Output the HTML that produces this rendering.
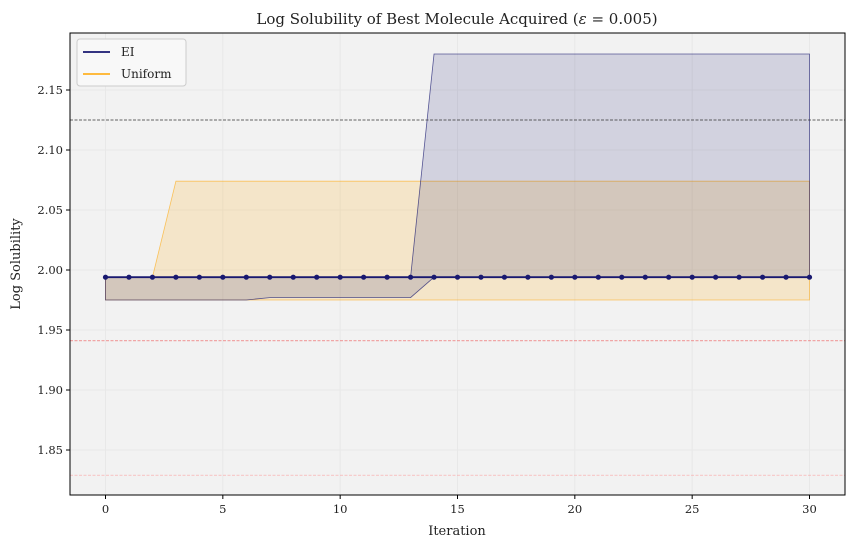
<!DOCTYPE html>
<html><head><meta charset="utf-8"><style>
body{margin:0;background:#fff;font-family:"DejaVu Serif","Liberation Serif",serif;}
svg text{font-family:"DejaVu Serif","Liberation Serif",serif;fill:#222;}
</style></head><body>
<svg id="chart" width="854" height="548"></svg>
<script>
const iterations=[...Array(31).keys()];
const eiMean=iterations.map(()=>1.994);
const eiLower=[1.975,1.975,1.975,1.975,1.975,1.975,1.975,1.977,1.977,1.977,1.977,1.977,1.977,1.977,1.994,1.994,1.994,1.994,1.994,1.994,1.994,1.994,1.994,1.994,1.994,1.994,1.994,1.994,1.994,1.994,1.994];
const eiUpper=[1.994,1.994,1.994,1.994,1.994,1.994,1.994,1.994,1.994,1.994,1.994,1.994,1.994,1.994,2.18,2.18,2.18,2.18,2.18,2.18,2.18,2.18,2.18,2.18,2.18,2.18,2.18,2.18,2.18,2.18,2.18];
const uniMean=iterations.map(()=>1.994);
const uniLower=iterations.map(()=>1.975);
const uniUpper=[1.994,1.994,1.994,2.074,2.074,2.074,2.074,2.074,2.074,2.074,2.074,2.074,2.074,2.074,2.074,2.074,2.074,2.074,2.074,2.074,2.074,2.074,2.074,2.074,2.074,2.074,2.074,2.074,2.074,2.074,2.074];
const refLines=[{v:2.125,c:"#333",o:1},{v:1.941,c:"#e33",o:0.8},{v:1.829,c:"#f88",o:0.7}];
const xTicks=[0,5,10,15,20,25,30];
const yTicks=[1.85,1.90,1.95,2.00,2.05,2.10,2.15];
const L=70,R=845,T=33,B=495;
const X=v=>105.5+v*(809.5-105.5)/30;
const Y=v=>90+(2.15-v)*1200;
const svg=document.getElementById('chart');
const NS="http://www.w3.org/2000/svg";
function mk(tag,attrs,parent){const e=document.createElementNS(NS,tag);for(const k in attrs)e.setAttribute(k,attrs[k]);(parent||svg).appendChild(e);return e;}
let e;
e=mk('rect',{x:L,y:T,width:R-L,height:B-T,fill:'#f2f2f2'});


xTicks.forEach(t=>{e=mk('line',{x1:X(t),x2:X(t),y1:T,y2:B,stroke:'#e8e8e8','stroke-width':1});

});
yTicks.forEach(t=>{e=mk('line',{x1:L,x2:R,y1:Y(t),y2:Y(t),stroke:'#e8e8e8','stroke-width':1});

});
function band(lo,hi,fill,stroke,name){
 let d='M'+iterations.map(i=>X(i)+','+Y(hi[i])).join('L')+'L'+iterations.slice().reverse().map(i=>X(i)+','+Y(lo[i])).join('L')+'Z';
 const p=mk('path',{d,fill,stroke,'stroke-width':0.8});
 
 
}
band(uniLower,uniUpper,'rgba(255,165,0,0.17)','rgba(255,165,0,0.6)','uniform-band');
band(eiLower,eiUpper,'rgba(25,25,112,0.15)','rgba(25,25,112,0.7)','ei-band');
refLines.forEach(r=>{e=mk('line',{x1:L,x2:R,y1:Y(r.v),y2:Y(r.v),stroke:r.c,'stroke-opacity':r.o,'stroke-width':0.7,'stroke-dasharray':'3,1.5'});

});
e=mk('polyline',{points:iterations.map(i=>X(i)+','+Y(uniMean[i])).join(' '),fill:'none',stroke:'orange','stroke-width':1.5});


e=mk('polyline',{points:iterations.map(i=>X(i)+','+Y(eiMean[i])).join(' '),fill:'none',stroke:'#191970','stroke-width':1.8});


iterations.forEach(i=>{e=mk('circle',{cx:X(i),cy:Y(eiMean[i]),r:2.6,fill:'#191970'});

});
e=mk('rect',{x:L,y:T,width:R-L,height:B-T,fill:'none',stroke:'#000','stroke-width':1});


xTicks.forEach(t=>{mk('line',{x1:X(t),x2:X(t),y1:B,y2:B+4,stroke:'#000'});
e=mk('text',{x:X(t),y:B+18,'text-anchor':'middle','font-size':11.5});e.textContent=t;

});
yTicks.forEach(t=>{mk('line',{x1:L-4,x2:L,y1:Y(t),y2:Y(t),stroke:'#000'});
e=mk('text',{x:L-7,y:Y(t)+4,'text-anchor':'end','font-size':11.5});e.textContent=t.toFixed(2);

});
e=mk('text',{x:457,y:535,'text-anchor':'middle','font-size':13});e.textContent='Iteration';


e=mk('text',{x:20,y:264,'text-anchor':'middle','font-size':13,transform:'rotate(-90 20 264)'});e.textContent='Log Solubility';


e=mk('text',{x:457,y:24,'text-anchor':'middle','font-size':15});
e.innerHTML='Log Solubility of Best Molecule Acquired (<tspan font-style="italic">ε</tspan> = 0.005)';


const lg=mk('g',{});


mk('rect',{x:77,y:39,width:109,height:47,fill:'#f8f8f8',stroke:'#ccc',rx:3},lg);
mk('line',{x1:83,x2:110,y1:52,y2:52,stroke:'#191970','stroke-width':1.8},lg);
mk('line',{x1:83,x2:110,y1:74,y2:74,stroke:'orange','stroke-width':1.5},lg);
e=mk('text',{x:121,y:56,'font-size':12},lg);e.textContent='EI';


e=mk('text',{x:121,y:78,'font-size':12},lg);e.textContent='Uniform';


</script>
</body></html>
